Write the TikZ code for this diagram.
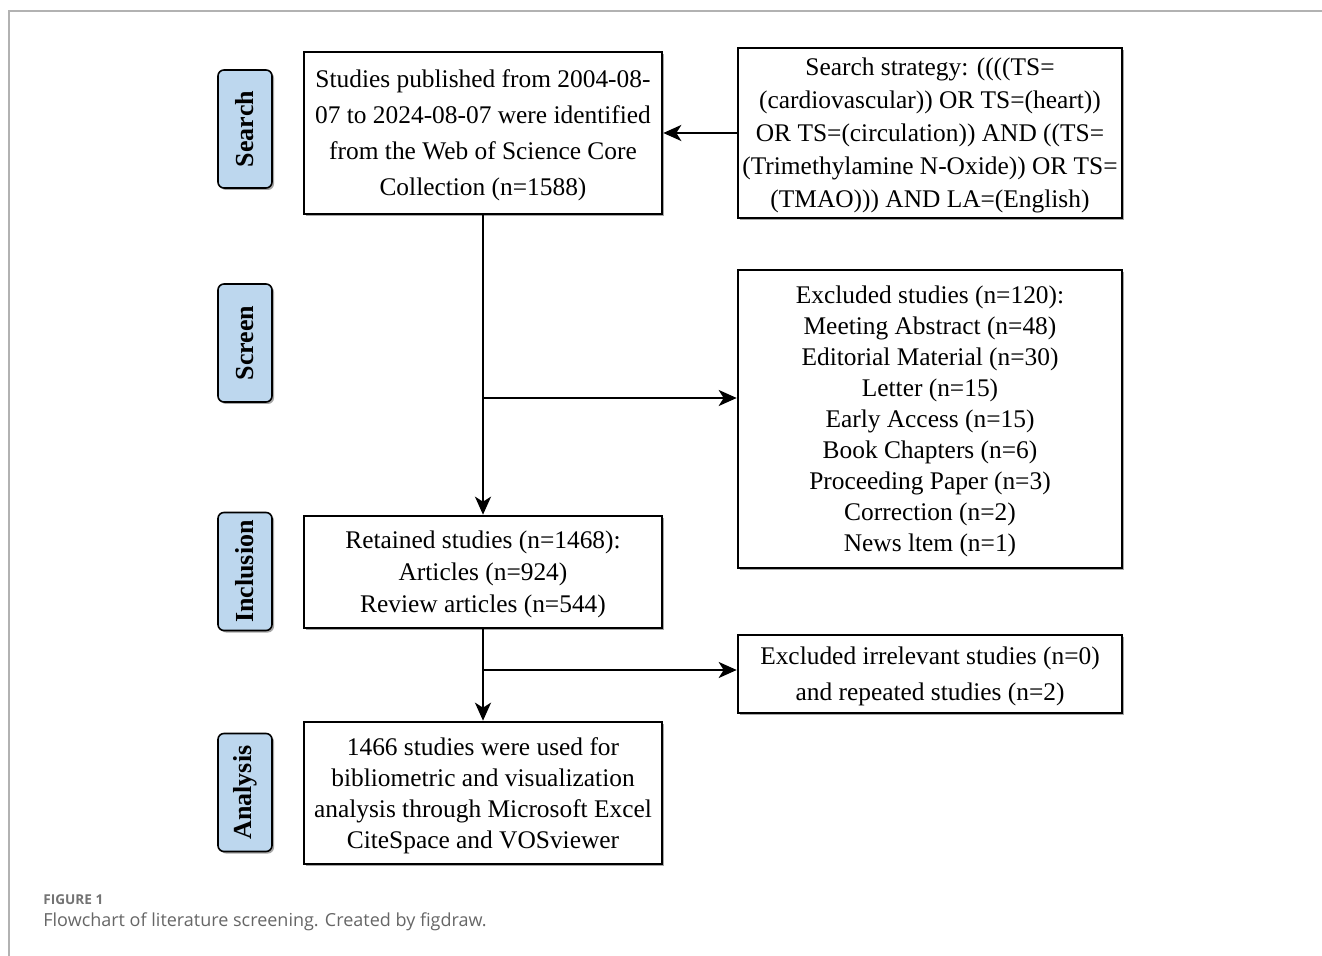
\documentclass[tikz,border=0pt]{standalone}
\usepackage{fontspec}
\setmainfont{Liberation Serif}
\newfontfamily\capfont{Open Sans}
\usepackage{tikz}
\usetikzlibrary{arrows.meta,positioning,calc,shadows}
\usepackage{xcolor}
\definecolor{stageblue}{HTML}{BDD7EE}

\begin{document}
\begin{tikzpicture}[x=0.5pt,y=-0.5pt,
  box/.style={draw,line width=1.3pt,fill=white,align=center,inner sep=2pt,text depth=-1.8pt,
    drop shadow={shadow xshift=1.2pt,shadow yshift=-1.2pt,fill=black!35,opacity=1}},
  stage/.style={draw,line width=0.8pt,rounded corners=3pt,fill=stageblue,rotate=90,
    minimum width=59pt,minimum height=27pt,inner sep=0pt,font=\fontsize{13}{15}\selectfont\bfseries,
    drop shadow={shadow xshift=1pt,shadow yshift=-1pt,fill=black!35,opacity=1}},
  arr/.style={line width=1.2pt,-{Stealth[length=9pt,width=8pt,inset=2.5pt]}}]
  \useasboundingbox (0,0) rectangle (1322,956);
  \draw[black!30,line width=0.6pt] (1322,11) -- (9,11) -- (9,956);
  % stages
  \node[stage] (s1) at (245,129) {Search};
  \node[stage] (s2) at (245,343) {Screen};
  \node[stage] (s3) at (245,571.5) {Inclusion};
  \node[stage] (s4) at (245,792.5) {Analysis};
  % boxes
  \node[box,minimum width=179pt,minimum height=81pt,font=\fontsize{12.7}{18}\selectfont] (a) at (483,133) {Studies published from 2004-08-\\07 to 2024-08-07 were identified\\from the Web of Science Core\\Collection (n=1588)};
  \node[box,minimum width=192pt,minimum height=85pt,font=\fontsize{12.7}{16.5}\selectfont] (b) at (930,133) {Search strategy: ((((TS=\\(cardiovascular)) OR TS=(heart))\\OR TS=(circulation)) AND ((TS=\\(Trimethylamine N-Oxide)) OR TS=\\(TMAO))) AND LA=(English)};
  \node[box,minimum width=192pt,minimum height=149pt,font=\fontsize{12.7}{15.5}\selectfont] (c) at (930,419) {Excluded studies (n=120):\\Meeting Abstract (n=48)\\Editorial Material (n=30)\\Letter (n=15)\\Early Access (n=15)\\Book Chapters (n=6)\\Proceeding Paper (n=3)\\Correction (n=2)\\News ltem (n=1)};
  \node[box,minimum width=179pt,minimum height=56pt,font=\fontsize{12.7}{16}\selectfont] (d) at (483,572) {Retained studies (n=1468):\\Articles (n=924)\\Review articles (n=544)};
  \node[box,minimum width=192pt,minimum height=39pt,font=\fontsize{12.7}{18}\selectfont] (e) at (930,674) {Excluded irrelevant studies (n=0)\\and repeated studies (n=2)};
  \node[box,minimum width=179pt,minimum height=71pt,font=\fontsize{12.7}{15.5}\selectfont] (f) at (483,793) {1466 studies were used for\\bibliometric and visualization\\analysis through Microsoft Excel\\CiteSpace and VOSviewer};
  % connectors
  \coordinate (j1) at (483,398);
  \coordinate (j2) at (483,670);
  \draw[arr] (b.west) -- (a.east);
  \draw[arr] (a.south) -- (d.north);
  \draw[arr] (j1) -- (j1 -| c.west);
  \draw[arr] (d.south) -- (f.north);
  \draw[arr] (j2) -- (j2 -| e.west);
  % caption
  \node[anchor=west,inner sep=0pt,text=black!55,font=\capfont\fontsize{6.8}{8}\selectfont\bfseries] (fig) at (43,900) {FIGURE 1};
  \node[anchor=west,inner sep=0pt,text=black!60,font=\capfont\fontsize{9}{11}\selectfont] (cap) at (43,922) {Flowchart of literature screening. Created by figdraw.};
\end{tikzpicture}
\end{document}
